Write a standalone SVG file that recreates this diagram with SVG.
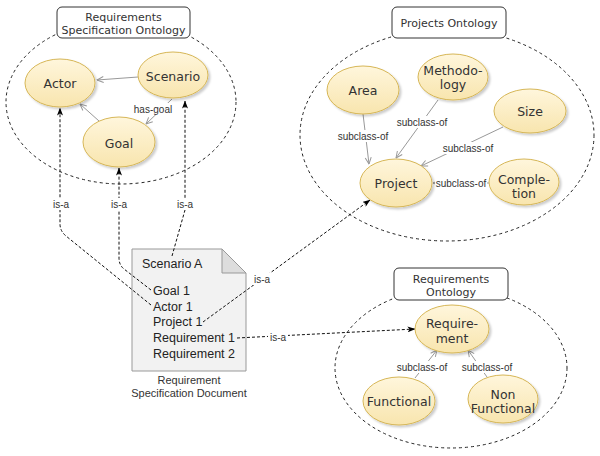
<svg xmlns="http://www.w3.org/2000/svg" width="600" height="456" viewBox="0 0 600 456">
<defs>
  <linearGradient id="yg" x1="0" y1="0" x2="0" y2="1">
    <stop offset="0" stop-color="#FFF6DC"/>
    <stop offset="1" stop-color="#F8E5AE"/>
  </linearGradient>
  <filter id="sh" x="-20%" y="-20%" width="150%" height="150%">
    <feDropShadow dx="2" dy="2" stdDeviation="1.2" flood-color="#000" flood-opacity="0.2"/>
  </filter>
  <marker id="blk" viewBox="0 0 8 6" refX="7.5" refY="3" markerWidth="8" markerHeight="6" markerUnits="userSpaceOnUse" orient="auto">
    <path d="M0,0 L8,3 L0,6 L2,3 Z" fill="#000"/>
  </marker>
  <marker id="gry" viewBox="0 0 8 8" refX="7.5" refY="4" markerWidth="8" markerHeight="8" markerUnits="userSpaceOnUse" orient="auto">
    <path d="M1,1 L7.5,4 L1,7" fill="none" stroke="#999" stroke-width="1"/>
  </marker>
</defs>
<style>
  .grp{fill:none;stroke:#222;stroke-width:1;stroke-dasharray:3 3}
  .ttl{fill:#fff;stroke:#333;stroke-width:1}
  .tt{font-family:"DejaVu Sans",Verdana,sans-serif;font-size:11px;fill:#333;text-anchor:middle}
  .nd{fill:url(#yg);stroke:#D6B656;stroke-width:1;filter:url(#sh)}
  .nt{font-family:"DejaVu Sans",Verdana,sans-serif;font-size:12.5px;fill:#333;text-anchor:middle}
  .ge{fill:none;stroke:#999;stroke-width:1;marker-end:url(#gry)}
  .de{fill:none;stroke:#111;stroke-width:1;stroke-dasharray:3 2;marker-end:url(#blk)}
  .el{font-family:"Liberation Sans",Arial,sans-serif;font-size:10px;fill:#333;text-anchor:middle}
  .lb{fill:#fff}
  .dt{font-family:"Liberation Sans",Arial,sans-serif;font-size:12.5px;fill:#222}
  .cap{font-family:"Liberation Sans",Arial,sans-serif;font-size:11px;fill:#333;text-anchor:middle}
</style>
<rect width="600" height="456" fill="#fff"/>

<!-- group ellipses -->
<g id="req-spec-ontology">
  <ellipse class="grp" cx="121" cy="102" rx="115" ry="82"/>
  <rect class="ttl" x="57" y="7" width="133" height="31" rx="5"/>
  <text class="tt" x="123.5" y="21">Requirements</text>
  <text class="tt" x="123.5" y="34">Specification Ontology</text>
</g>
<g id="projects-ontology">
  <ellipse class="grp" cx="447" cy="135" rx="147" ry="106"/>
  <rect class="ttl" x="392" y="7" width="114" height="31" rx="5"/>
  <text class="tt" x="449" y="27">Projects Ontology</text>
</g>
<g id="requirements-ontology">
  <ellipse class="grp" cx="451" cy="368" rx="116" ry="80"/>
  <rect class="ttl" x="394" y="268" width="114" height="32" rx="5"/>
  <text class="tt" x="451" y="283">Requirements</text>
  <text class="tt" x="451" y="296">Ontology</text>
</g>

<!-- document -->
<g id="document">
  <path d="M132,249 L222,249 L246,273 L246,371 L132,371 Z" fill="#F2F2F2" stroke="#999" stroke-width="1"/>
  <path d="M222,249 L222,273 L246,273 Z" fill="#DDDDDD" stroke="#999" stroke-width="1"/>
  <text class="dt" x="142" y="267.5">Scenario A</text>
  <text class="dt" x="153" y="294.5">Goal 1</text>
  <text class="dt" x="153" y="310.5">Actor 1</text>
  <text class="dt" x="153" y="326">Project 1</text>
  <text class="dt" x="153" y="342">Requirement 1</text>
  <text class="dt" x="153" y="358">Requirement 2</text>
  <text class="cap" x="189" y="384">Requirement</text>
  <text class="cap" x="189" y="397">Specification Document</text>
</g>

<!-- connectors -->
<g id="connectors">
  <path class="ge" d="M138,77 L97,80"/>
  <path class="ge" d="M99,121 L80,104"/>
  <path class="ge" d="M172,99 L146,124"/>
  <path class="ge" d="M363,114 L369,164"/>
  <path class="ge" d="M438,100 L396,158"/>
  <path class="ge" d="M503,127 L421,166"/>
  <path class="ge" d="M489,183 L433,183"/>
  <path class="ge" d="M415,378 L437,350"/>
  <path class="ge" d="M487,377 L468,350"/>

  <path class="de" d="M151,305 L66,236 Q60,231 60,224 L60,108"/>
  <path class="de" d="M151,290 L124,269 Q119,265 119,258 L119,168"/>
  <path class="de" d="M172,256 L185,210 L185,101"/>
  <path class="de" d="M203,322 L370,200"/>
  <path class="de" d="M237,338 L415,329"/>

  <rect class="lb" x="128" y="103" width="50" height="12"/>
  <text class="el" x="153" y="112.5">has-goal</text>
  <rect class="lb" x="337" y="130" width="52" height="12"/>
  <text class="el" x="363" y="139.5">subclass-of</text>
  <rect class="lb" x="396" y="116" width="52" height="12"/>
  <text class="el" x="422" y="125.5">subclass-of</text>
  <rect class="lb" x="442" y="142" width="52" height="12"/>
  <text class="el" x="468" y="151.5">subclass-of</text>
  <rect class="lb" x="435" y="177" width="52" height="12"/>
  <text class="el" x="461" y="186.5">subclass-of</text>
  <rect class="lb" x="396" y="361" width="52" height="12"/>
  <text class="el" x="422" y="370.5">subclass-of</text>
  <rect class="lb" x="461" y="361" width="52" height="12"/>
  <text class="el" x="487" y="370.5">subclass-of</text>

  <rect class="lb" x="51" y="198" width="19" height="12"/>
  <text class="el" x="61" y="207.5">is-a</text>
  <rect class="lb" x="110" y="198" width="19" height="12"/>
  <text class="el" x="119" y="207.5">is-a</text>
  <rect class="lb" x="176" y="198" width="19" height="12"/>
  <text class="el" x="185" y="207.5">is-a</text>
  <rect class="lb" x="252" y="273" width="19" height="12"/>
  <text class="el" x="262" y="282.5">is-a</text>
  <rect class="lb" x="268" y="331" width="20" height="12"/>
  <text class="el" x="278" y="340.5">is-a</text>
</g>

<!-- nodes -->
<g id="actor"><ellipse class="nd" cx="60" cy="83" rx="35" ry="24"/><text class="nt" x="60" y="88">Actor</text></g>
<g id="scenario"><ellipse class="nd" cx="173" cy="75" rx="35" ry="23"/><text class="nt" x="173" y="81">Scenario</text></g>
<g id="goal"><ellipse class="nd" cx="119" cy="142" rx="36" ry="25"/><text class="nt" x="119" y="147.5">Goal</text></g>

<g id="area"><ellipse class="nd" cx="363" cy="90" rx="36" ry="24"/><text class="nt" x="363" y="94.5">Area</text></g>
<g id="methodology"><ellipse class="nd" cx="453" cy="77" rx="35" ry="23"/><text class="nt" x="453" y="74.5">Methodo-</text><text class="nt" x="453" y="89">logy</text></g>
<g id="size"><ellipse class="nd" cx="530" cy="111" rx="36" ry="22"/><text class="nt" x="530" y="115.5">Size</text></g>
<g id="project"><ellipse class="nd" cx="396" cy="183" rx="36" ry="24"/><text class="nt" x="396" y="187.5">Project</text></g>
<g id="completion"><ellipse class="nd" cx="524" cy="182" rx="35" ry="23"/><text class="nt" x="524" y="183.5">Comple-</text><text class="nt" x="524" y="197.5">tion</text></g>

<g id="requirement"><ellipse class="nd" cx="452" cy="329" rx="37" ry="24"/><text class="nt" x="452" y="327.5">Require-</text><text class="nt" x="452" y="342.5">ment</text></g>
<g id="functional"><ellipse class="nd" cx="399" cy="401" rx="36" ry="24"/><text class="nt" x="399" y="406">Functional</text></g>
<g id="non-functional"><ellipse class="nd" cx="503" cy="399" rx="35" ry="24"/><text class="nt" x="503" y="398.5">Non</text><text class="nt" x="503" y="412.5">Functional</text></g>
</svg>
